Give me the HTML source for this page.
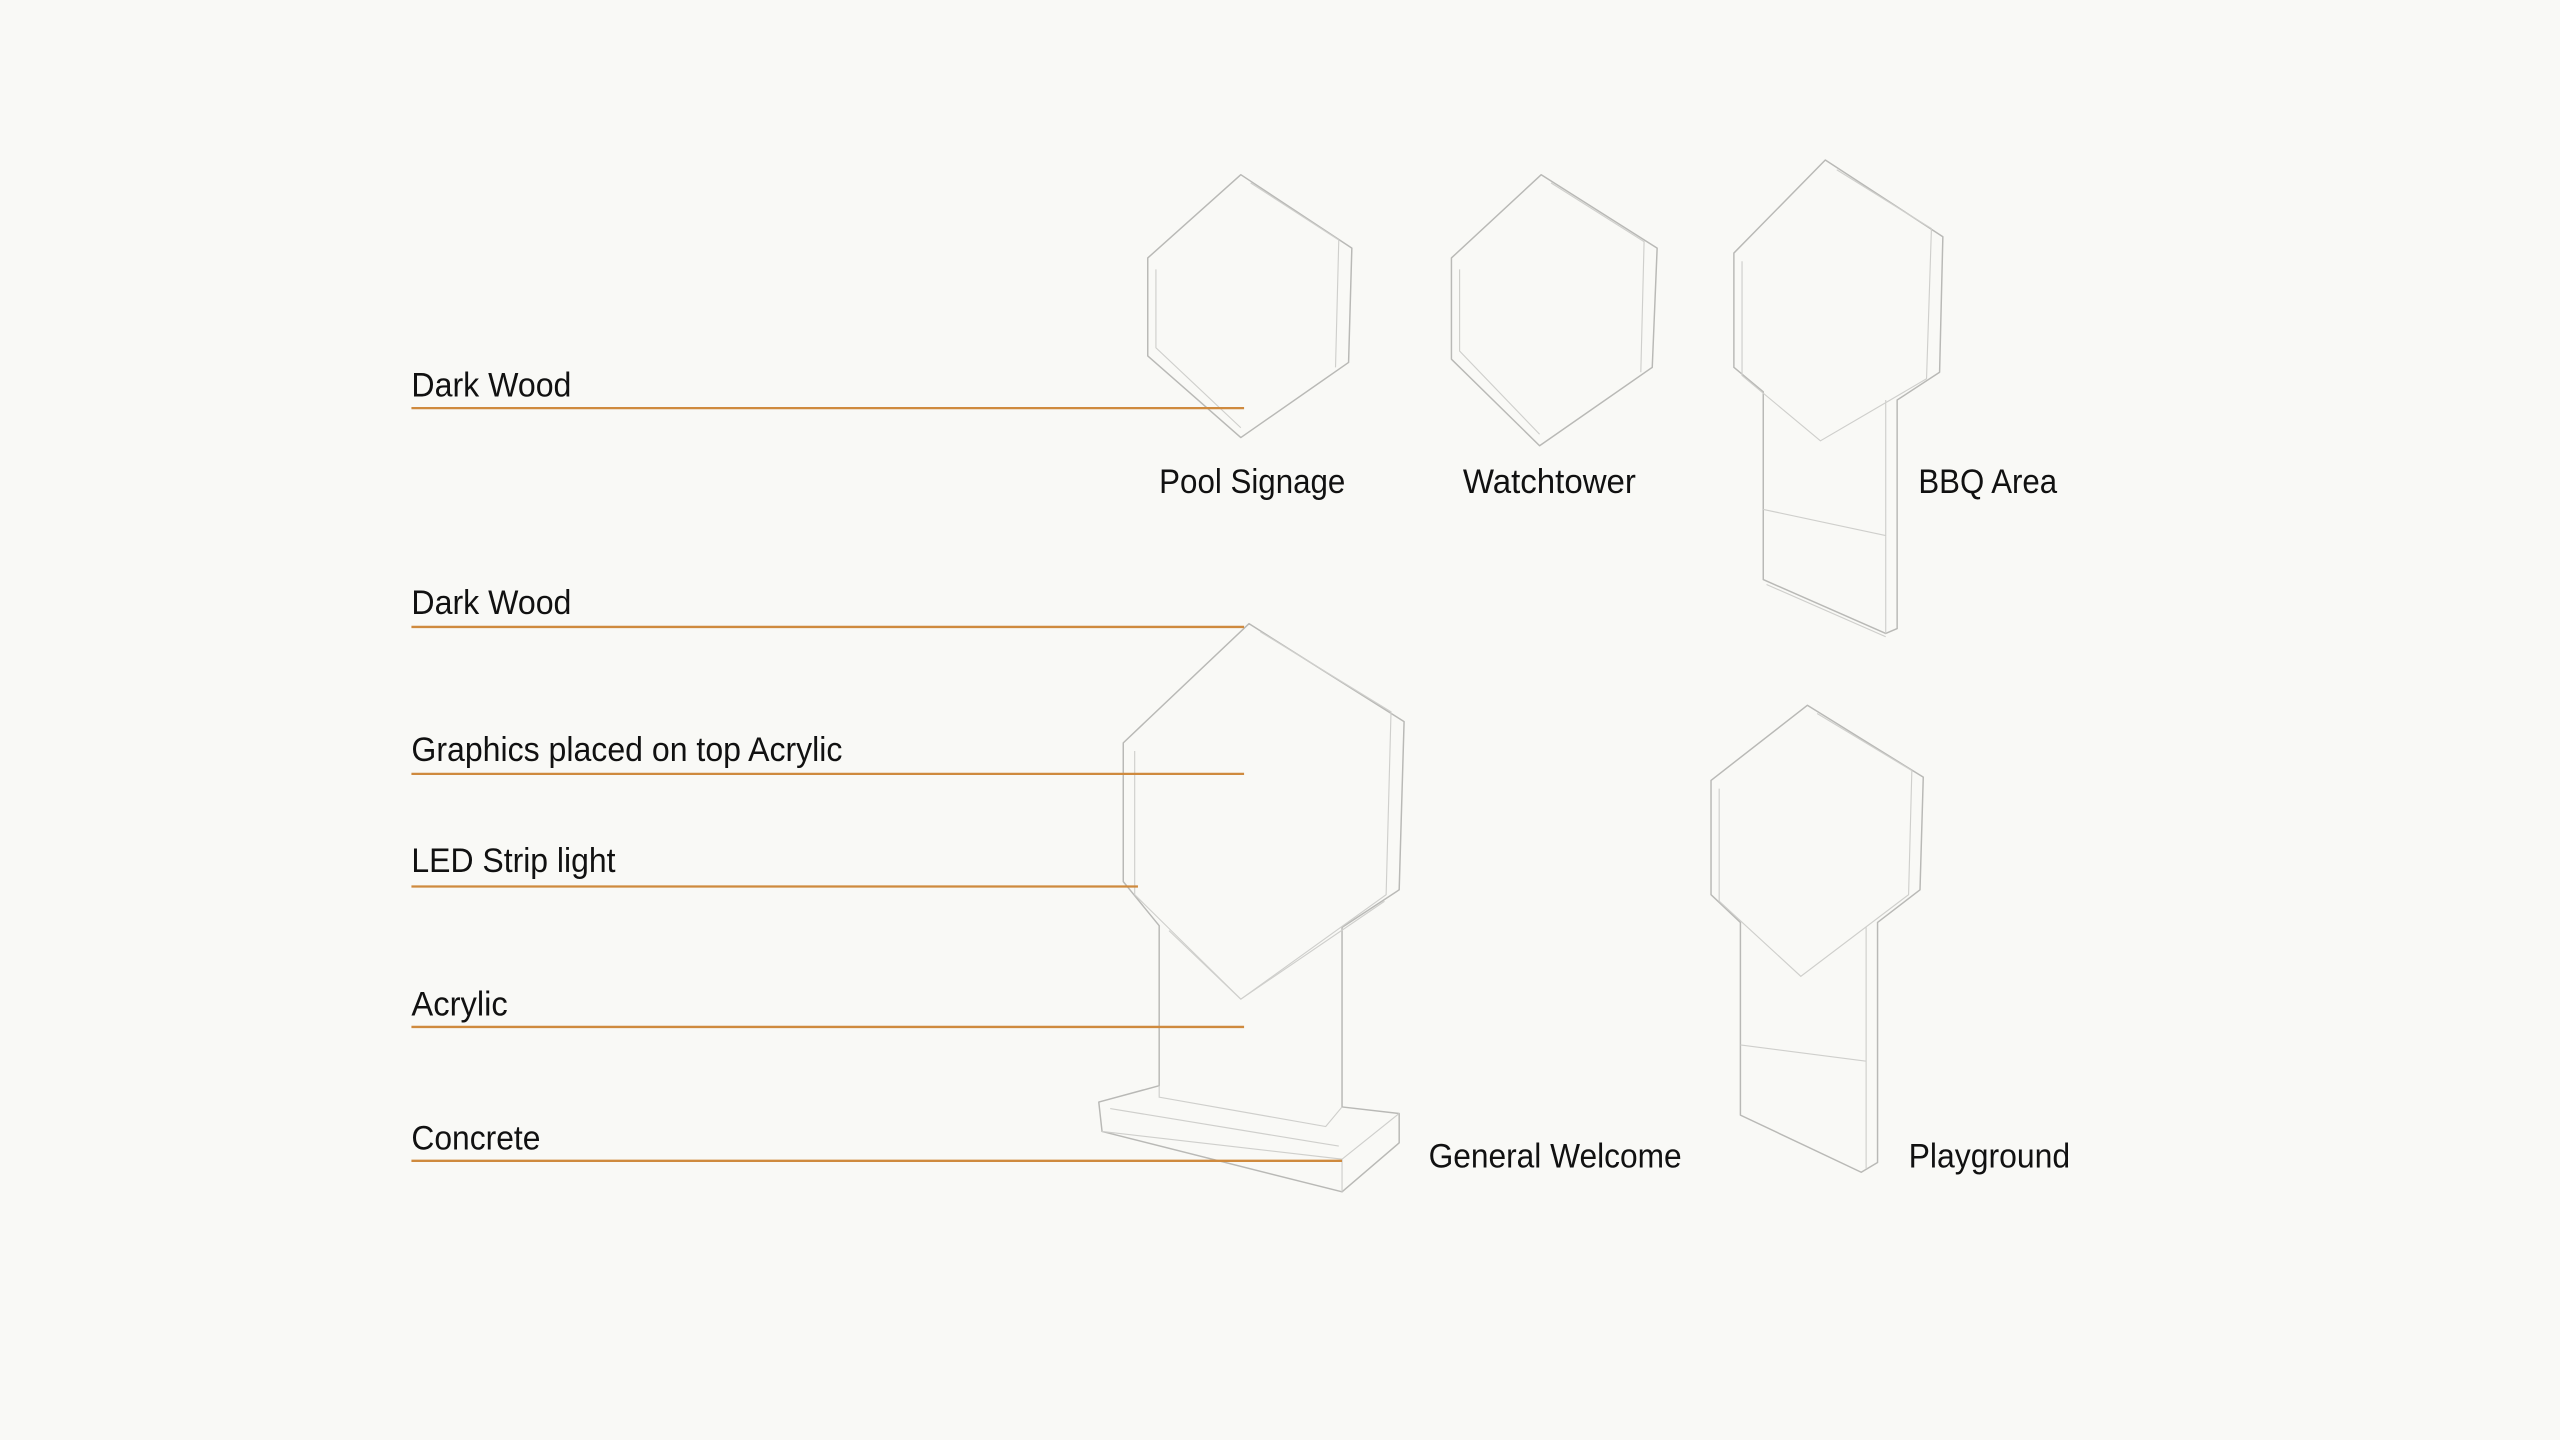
<!DOCTYPE html>
<html><head><meta charset="utf-8"><style>
html,body{margin:0;padding:0;background:#f9f9f6;}
svg{display:block}
text{font-family:"Liberation Sans Narrow","Liberation Sans",sans-serif;font-size:21px;fill:#111;}
.o{stroke:#cf8a3e;stroke-width:1.4;fill:none}
.s{stroke:#b9b9b6;stroke-width:0.9;fill:none;stroke-linejoin:round}
.f{stroke:#cfcfcc;stroke-width:0.7;fill:none}
</style></head><body>
<svg width="2560" height="1440" viewBox="0 0 1568 882" xmlns="http://www.w3.org/2000/svg">
<rect width="1568" height="882" fill="#f9f9f6"/>
<!-- Pool Signage -->
<path class="s" d="M760 107 L828 152 L826 222 L760 268 L703 218 L703 158 Z"/>
<path class="f" d="M766 112 L820 147 L818 225 M708 165 L708 213 L760 262"/>
<!-- Watchtower -->
<path class="s" d="M944 107 L1015 152 L1012 225 L943 273 L889 220 L889 158 Z"/>
<path class="f" d="M950 112 L1007 148 L1005 228 M894 165 L894 215 L943 266"/>
<!-- BBQ -->
<path class="s" d="M1118 98 L1190 145 L1188 228 L1162 245 L1162 385 L1155 388 L1080 355 L1080 240 L1062 225 L1062 155 Z"/>
<path class="f" d="M1125 104 L1183 140 L1180 232 L1115 270 L1067 230 L1067 160 M1155 245 L1155 388 M1080 312 L1155 328 M1082 358 L1155 390"/>
<!-- General Welcome -->
<path class="s" d="M765 382 L860 442 L857 545 L822 568 L822 678 L857 682 L857 700 L822 730 L675 693 L673 675 L710 665 L710 567 L688 540 L688 455 Z"/>
<path class="f" d="M772 387 L852 436 L849 548 L760 612 L695 548 L695 460 M710 665 L710 672 L812 690 L822 678 M675 693 L822 710 L822 730 M822 710 L857 682 M680 679 L820 702"/>
<path class="f" d="M760 612 L848 552 M716 570 L760 612"/>
<!-- Playground -->
<path class="s" d="M1107 432 L1178 476 L1176 545 L1150 565 L1150 712 L1140 718 L1066 683 L1066 565 L1048 548 L1048 478 Z"/>
<path class="f" d="M1113 437 L1171 472 L1169 548 L1103 598 L1053 552 L1053 483 M1143 568 L1143 716 M1066 640 L1143 650"/>
<!-- leader lines -->
<line class="o" x1="252" y1="250" x2="762" y2="250"/>
<line class="o" x1="252" y1="384" x2="762" y2="384"/>
<line class="o" x1="252" y1="474" x2="762" y2="474"/>
<line class="o" x1="252" y1="543" x2="697" y2="543"/>
<line class="o" x1="252" y1="629" x2="762" y2="629"/>
<line class="o" x1="252" y1="711" x2="822" y2="711"/>
<!-- labels -->
<text x="252" y="243" textLength="98" lengthAdjust="spacingAndGlyphs">Dark Wood</text>
<text x="252" y="376" textLength="98" lengthAdjust="spacingAndGlyphs">Dark Wood</text>
<text x="252" y="466" textLength="264" lengthAdjust="spacingAndGlyphs">Graphics placed on top Acrylic</text>
<text x="252" y="534" textLength="125" lengthAdjust="spacingAndGlyphs">LED Strip light</text>
<text x="252" y="622" textLength="59" lengthAdjust="spacingAndGlyphs">Acrylic</text>
<text x="252" y="704" textLength="79" lengthAdjust="spacingAndGlyphs">Concrete</text>
<text x="710" y="302" textLength="114" lengthAdjust="spacingAndGlyphs">Pool Signage</text>
<text x="896" y="302" textLength="106" lengthAdjust="spacingAndGlyphs">Watchtower</text>
<text x="1175" y="302" textLength="85" lengthAdjust="spacingAndGlyphs">BBQ Area</text>
<text x="875" y="715" textLength="155" lengthAdjust="spacingAndGlyphs">General Welcome</text>
<text x="1169" y="715" textLength="99" lengthAdjust="spacingAndGlyphs">Playground</text>
</svg>
</body></html>
